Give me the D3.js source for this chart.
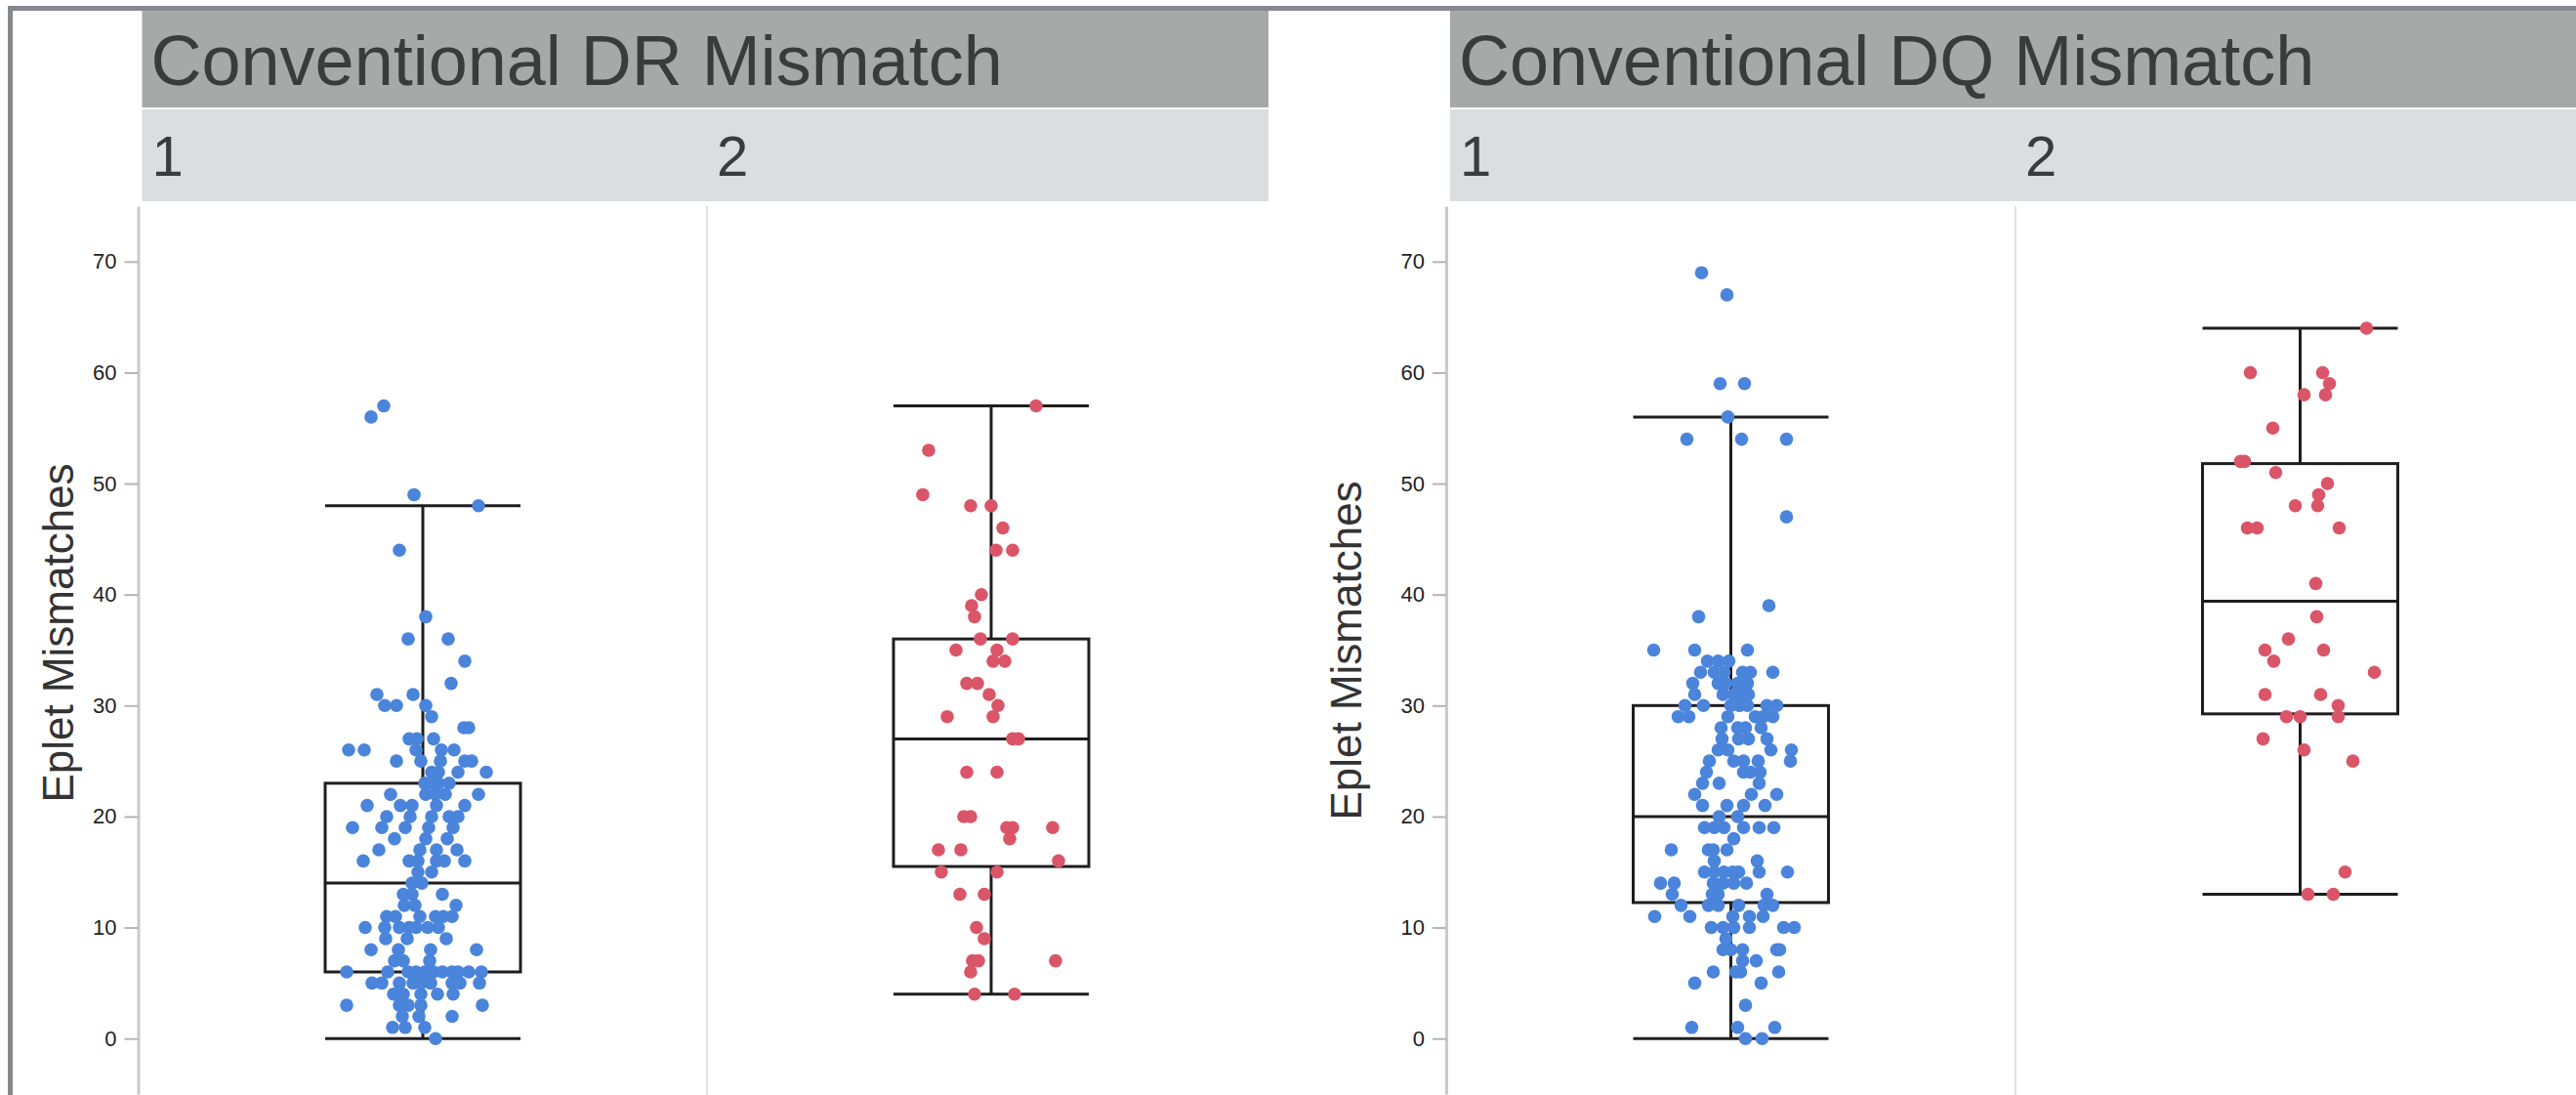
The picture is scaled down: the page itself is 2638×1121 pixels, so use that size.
<!DOCTYPE html>
<html>
<head>
<meta charset="utf-8">
<script src="https://cdn.jsdelivr.net/npm/d3@7"></script>
<style>
  body { margin: 0; background: #fff; }
  svg { display: block; }
  text { font-family: "Liberation Sans", Arial, Helvetica, sans-serif; }
</style>
</head>
<body>
<svg></svg>
<script>
// ---- data ----
var panelTitles = ["Conventional DR Mismatch", "Conventional DQ Mismatch"];
var groupLabels = ["1", "2"];
var yTicks = [0, 10, 20, 30, 40, 50, 60, 70];
var yLabel = "Eplet Mismatches";

// box stats per group: [low whisker, q1, median, q3, high whisker]
var drBoxes = [[0, 6, 14, 23, 48], [4, 15.5, 27, 36, 57]];
var dqBoxes = [[0, 12.25, 20, 30, 56], [13, 29.25, 39.4, 51.8, 64]];

// points: [eplet mismatches, jitter as a fraction of half the box width]
var dr1 = [[57,-0.40],[56,-0.53],[49,-0.09],[48,0.57],[44,-0.24],[38,0.03],[36,-0.15],[36,0.26],[34,0.43],[32,0.29],
  [31,-0.47],[31,-0.10],[30,-0.39],[30,-0.27],[30,0.03],[29,0.09],[28,0.42],[28,0.47],[27,-0.14],[27,-0.06],[27,0.11],
  [26,-0.76],[26,-0.60],[26,-0.07],[26,0.19],[26,0.32],[25,-0.27],[25,-0.02],[25,0.18],[25,0.43],[25,0.50],
  [24,0.09],[24,0.16],[24,0.36],[24,0.65],[23,0.02],[23,0.10],[23,0.16],[23,0.27],
  [22,-0.33],[22,0.03],[22,0.13],[22,0.23],[22,0.57],[21,-0.57],[21,-0.23],[21,-0.11],[21,0.14],[21,0.43],
  [20,-0.37],[20,-0.13],[20,0.09],[20,0.27],[20,0.36],[19,-0.72],[19,-0.42],[19,-0.18],[19,0.06],[19,0.31],
  [18,-0.29],[18,0.03],[18,0.25],[17,-0.45],[17,-0.03],[17,0.14],[17,0.35],
  [16,-0.61],[16,-0.14],[16,-0.05],[16,0.14],[16,0.22],[16,0.43],[15,-0.05],[15,0.09],[14,-0.11],[14,-0.01],
  [13,-0.20],[13,-0.11],[13,0.20],[12,-0.19],[12,-0.08],[12,0.34],
  [11,-0.37],[11,-0.28],[11,-0.03],[11,0.13],[11,0.21],[11,0.30],
  [10,-0.59],[10,-0.39],[10,-0.24],[10,-0.14],[10,-0.07],[10,0.05],[10,0.16],[9,-0.38],[9,-0.16],[9,0.24],
  [8,-0.53],[8,-0.25],[8,0.08],[8,0.55],[7,-0.29],[7,-0.20],[7,0.07],
  [6,-0.78],[6,-0.36],[6,-0.15],[6,-0.07],[6,0.02],[6,0.11],[6,0.20],[6,0.30],[6,0.36],[6,0.47],[6,0.60],
  [5,-0.52],[5,-0.42],[5,-0.24],[5,-0.10],[5,-0.02],[5,0.08],[5,0.30],[5,0.38],[5,0.58],
  [4,-0.30],[4,-0.20],[4,-0.02],[4,0.15],[4,0.31],[3,-0.78],[3,-0.24],[3,-0.15],[3,-0.02],[3,0.61],
  [2,-0.21],[2,-0.04],[2,0.30],[1,-0.31],[1,-0.18],[1,0.02],[0,0.13]];

var dr2 = [[57,0.46],[53,-0.64],[49,-0.70],[48,-0.21],[48,0],[46,0.12],[44,0.05],[44,0.22],[40,-0.10],[39,-0.20],
  [38,-0.17],[36,-0.11],[36,0.22],[35,-0.36],[35,0.06],[34,0.02],[34,0.14],[32,-0.25],[32,-0.14],[31,-0.02],
  [30,0.07],[29,-0.45],[29,0.02],[27,0.22],[27,0.28],[24,-0.25],[24,0.06],[20,-0.28],[20,-0.21],
  [19,0.16],[19,0.22],[19,0.63],[18,0.19],[17,-0.54],[17,-0.31],[16,0.69],[15,-0.51],[15,0.06],
  [13,-0.32],[13,-0.07],[10,-0.15],[9,-0.07],[7,-0.19],[7,-0.13],[7,0.66],[6,-0.21],[4,-0.17],[4,0.24]];

var dq1 = [[69,-0.30],[67,-0.04],[59,-0.11],[59,0.14],[56,-0.03],[54,-0.45],[54,0.11],[54,0.57],[47,0.57],
  [39,0.39],[38,-0.33],[35,-0.79],[35,-0.37],[35,0.17],[34,-0.24],[34,-0.13],[34,-0.02],
  [33,-0.31],[33,-0.17],[33,-0.07],[33,0.12],[33,0.20],[33,0.43],[32,-0.39],[32,-0.13],[32,-0.05],[32,0.07],[32,0.17],
  [31,-0.37],[31,-0.08],[31,0.03],[31,0.12],[31,0.18],[30,-0.47],[30,-0.28],[30,0],[30,0.09],[30,0.17],[30,0.37],[30,0.47],
  [29,-0.54],[29,-0.43],[29,-0.03],[29,0.25],[29,0.33],[29,0.43],[28,-0.10],[28,0.07],[28,0.15],[28,0.31],
  [27,-0.09],[27,0.08],[27,0.18],[27,0.37],[26,-0.13],[26,-0.03],[26,0.41],[26,0.62],
  [25,-0.22],[25,0.03],[25,0.13],[25,0.28],[25,0.61],[24,-0.25],[24,0.13],[24,0.20],[24,0.30],
  [23,-0.29],[23,-0.12],[23,0.29],[22,-0.37],[22,0.21],[22,0.47],[21,-0.29],[21,-0.04],[21,0.13],[21,0.35],
  [20,-0.12],[20,0.07],[19,-0.27],[19,-0.17],[19,-0.07],[19,0.13],[19,0.29],[19,0.44],[18,0.03],
  [17,-0.61],[17,-0.23],[17,-0.18],[17,-0.04],[16,-0.17],[16,0.27],
  [15,-0.27],[15,-0.17],[15,-0.07],[15,0.02],[15,0.08],[15,0.29],[15,0.58],
  [14,-0.72],[14,-0.58],[14,-0.18],[14,-0.08],[14,0.03],[14,0.16],[13,-0.60],[13,-0.19],[13,-0.13],[13,0.37],
  [12,-0.51],[12,-0.23],[12,-0.13],[12,0.08],[12,0.34],[12,0.43],[11,-0.78],[11,-0.42],[11,0.02],[11,0.19],[11,0.33],
  [10,-0.20],[10,-0.08],[10,0.03],[10,0.19],[10,0.54],[10,0.65],[9,-0.05],
  [8,-0.08],[8,0],[8,0.12],[8,0.47],[8,0.50],[7,0.12],[7,0.26],[6,-0.18],[6,0.05],[6,0.10],[6,0.49],
  [5,-0.37],[5,0.31],[3,0.15],[1,-0.40],[1,0.07],[1,0.45],[0,0.15],[0,0.32]];

var dq2 = [[64,0.68],[60,-0.51],[60,0.23],[59,0.30],[58,0.04],[58,0.26],[55,-0.28],[52,-0.61],[52,-0.57],
  [51,-0.25],[50,0.28],[49,0.19],[48,-0.05],[48,0.18],[46,-0.54],[46,-0.44],[46,0.40],[41,0.16],[38,0.17],
  [36,-0.12],[35,-0.36],[35,0.24],[34,-0.27],[33,0.76],[31,-0.36],[31,0.21],[30,0.39],
  [29,-0.14],[29,0],[29,0.39],[27,-0.38],[26,0.04],[25,0.54],[15,0.46],[13,0.08],[13,0.34]];

var groupColors = ["#4a84db", "#da5568"];

// ---- layout ----
var width = 2638, height = 1121;
var svg = d3.select("svg").attr("width", width).attr("height", height);

var y = d3.scaleLinear().domain([-5, 75]).range([1120, 211]);
var boxHalf = 100, dotR = 6.8;

var panels = [
  { title: panelTitles[0], boxes: drBoxes, points: [dr1, dr2], axisX: 141.5, right: 1299, band: [142, 1306], labelX: 60, labelY: 648 },
  { title: panelTitles[1], boxes: dqBoxes, points: [dq1, dq2], axisX: 1481, right: 2638, band: [1481, 2647], labelX: 1379, labelY: 666 }
];

// outer frame
svg.append("rect")
    .attr("x", 10.5).attr("y", 8.5)
    .attr("width", 2640).attr("height", 1200)
    .attr("fill", "none")
    .attr("stroke", "#85888d")
    .attr("stroke-width", 5);

panels.forEach(function(p) {
  var g = svg.append("g");
  var x = d3.scaleBand().domain(groupLabels).range(p.band);
  var headerX = p.axisX + 4;

  // headers
  g.append("rect")
      .attr("x", headerX).attr("y", 11)
      .attr("width", p.right - headerX).attr("height", 99)
      .attr("fill", "#a6a9a7");
  g.append("text")
      .attr("x", headerX + 9).attr("y", 87)
      .attr("font-size", 72)
      .attr("fill", "#3b3b3b")
      .text(p.title);
  g.append("rect")
      .attr("x", headerX).attr("y", 112)
      .attr("width", p.right - headerX).attr("height", 94)
      .attr("fill", "#dcdddf");
  g.selectAll(".grp")
    .data(groupLabels)
    .enter().append("text")
      .attr("class", "grp")
      .attr("x", function(d) { return Math.max(x(d), headerX) + 10; })
      .attr("y", 180)
      .attr("font-size", 58)
      .attr("fill", "#3b3b3b")
      .text(function(d) { return d; });

  // column divider
  g.append("line")
      .attr("x1", x(groupLabels[1])).attr("x2", x(groupLabels[1]))
      .attr("y1", 211).attr("y2", height)
      .attr("stroke", "#e2e2e2").attr("stroke-width", 2);

  // y axis
  var axis = g.append("g")
      .attr("transform", "translate(" + p.axisX + ",0)")
      .call(d3.axisLeft(y).tickValues(yTicks).tickSize(14).tickSizeOuter(0).tickPadding(8));
  axis.select(".domain").attr("stroke", "#c9c9c9").attr("stroke-width", 3);
  axis.selectAll(".tick line").attr("stroke", "#b4b4b4").attr("stroke-width", 2);
  axis.selectAll(".tick text")
      .attr("font-size", 22)
      .attr("font-family", "\"Liberation Sans\", Arial, sans-serif")
      .attr("fill", "#222");

  g.append("text")
      .attr("transform", "translate(" + p.labelX + "," + p.labelY + ") rotate(-90)")
      .attr("text-anchor", "middle")
      .attr("dy", "0.35em")
      .attr("font-size", 44)
      .attr("fill", "#333")
      .text(yLabel);

  // boxes
  var box = g.selectAll(".box")
    .data(p.boxes)
    .enter().append("g")
      .attr("class", "box")
      .attr("transform", function(d, i) { return "translate(" + (x(groupLabels[i]) + x.bandwidth() / 2) + ",0)"; })
      .attr("stroke", "#1e1e1e")
      .attr("stroke-width", 3)
      .attr("fill", "none");

  box.append("line")
      .attr("x1", 0).attr("x2", 0)
      .attr("y1", function(d) { return y(d[0]); })
      .attr("y2", function(d) { return y(d[1]); });
  box.append("line")
      .attr("x1", 0).attr("x2", 0)
      .attr("y1", function(d) { return y(d[3]); })
      .attr("y2", function(d) { return y(d[4]); });
  box.append("rect")
      .attr("x", -boxHalf)
      .attr("width", boxHalf * 2)
      .attr("y", function(d) { return y(d[3]); })
      .attr("height", function(d) { return y(d[1]) - y(d[3]); });
  [0, 2, 4].forEach(function(k) {
    box.append("line")
        .attr("x1", -boxHalf).attr("x2", boxHalf)
        .attr("y1", function(d) { return y(d[k]); })
        .attr("y2", function(d) { return y(d[k]); });
  });

  // dots
  p.points.forEach(function(pts, i) {
    var cx = x(groupLabels[i]) + x.bandwidth() / 2;
    g.append("g")
      .selectAll("circle")
      .data(pts)
      .enter().append("circle")
        .attr("cx", function(d) { return cx + d[1] * boxHalf; })
        .attr("cy", function(d) { return y(d[0]); })
        .attr("r", dotR)
        .attr("fill", groupColors[i]);
  });
});
</script>
</body>
</html>
